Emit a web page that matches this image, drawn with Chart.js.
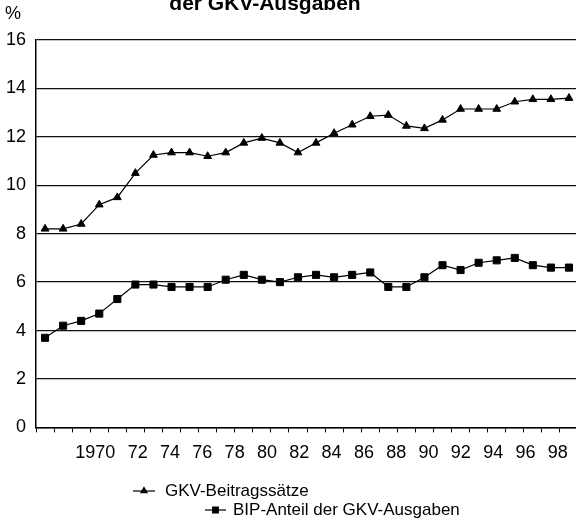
<!DOCTYPE html>
<html>
<head>
<meta charset="utf-8">
<script src="https://cdn.jsdelivr.net/npm/chart.js@4"></script>
<style>
  html, body { margin: 0; padding: 0; background: #fff; overflow: hidden; }
  #wrap { position: relative; width: 576px; height: 521px; overflow: hidden; }
  #c { position: absolute; left: 0; top: 0; }
</style>
</head>
<body>
<div id="wrap"><canvas id="c" width="584" height="521"></canvas></div>
<script>
// ---- data ----
const years = [1970,1971,1972,1973,1974,1975,1976,1977,1978,1979,
               1980,1981,1982,1983,1984,1985,1986,1987,1988,1989,
               1990,1991,1992,1993,1994,1995,1996,1997,1998,1999];
const gkvBeitragssaetze = [8.2,8.2,8.4,9.2,9.5,10.5,11.25,11.35,11.35,11.2,
                           11.35,11.75,11.95,11.75,11.35,11.75,12.15,12.5,12.85,12.9,
                           12.45,12.35,12.7,13.15,13.15,13.15,13.45,13.55,13.55,13.6];
const bipAnteil = [3.7,4.2,4.4,4.7,5.3,5.9,5.9,5.8,5.8,5.8,
                   6.1,6.3,6.1,6.0,6.2,6.3,6.2,6.3,6.4,5.8,
                   5.8,6.2,6.7,6.5,6.8,6.9,7.0,6.7,6.6,6.6];
const tickYears = [1970,1972,1974,1976,1978,1980,1982,1984,1986,1988,1990,1992,1994,1996,1998];
const tickLabels = ['1970','72','74','76','78','80','82','84','86','88','90','92','94','96','98'];
const yTicks = [0,2,4,6,8,10,12,14,16];
const seriesNames = ['GKV-Beitragssätze', 'BIP-Anteil der GKV-Ausgaben'];
const titleText = 'der GKV-Ausgaben';
const unitText = '%';

const FONT = '"Liberation Sans", Arial, sans-serif';

const extrasPlugin = {
  id: 'extras',
  afterDraw(chart) {
    const ctx = chart.ctx;
    ctx.save();
    ctx.fillStyle = '#000';
    ctx.font = 'bold 21px ' + FONT;
    ctx.textAlign = 'center';
    ctx.textBaseline = 'alphabetic';
    ctx.fillText(titleText, 265, 10);
    ctx.font = '18px ' + FONT;
    ctx.textAlign = 'left';
    ctx.textBaseline = 'middle';
    ctx.fillText(unitText, 5, 14);
    const rows = [
      {x0: 133, x1: 155, y: 491, tx: 165},
      {x0: 205, x1: 226, y: 510, tx: 233}
    ];
    chart.data.datasets.forEach((ds, i) => {
      const r = rows[i];
      ctx.strokeStyle = ds.borderColor;
      ctx.lineWidth = 1.2;
      ctx.beginPath();
      ctx.moveTo(r.x0, r.y);
      ctx.lineTo(r.x1, r.y);
      ctx.stroke();
      ctx.fillStyle = ds.pointBackgroundColor;
      Chart.helpers.drawPoint(ctx, {
        pointStyle: ds.pointStyle,
        radius: ds.pointStyle === 'rect' ? 4 : 3.5,
        borderWidth: 1,
        rotation: 0
      }, (r.x0 + r.x1) / 2, r.y);
      ctx.fill();
      ctx.fillStyle = '#000';
      ctx.font = '17px ' + FONT;
      ctx.textAlign = 'left';
      ctx.textBaseline = 'middle';
      ctx.fillText(ds.label, r.tx, r.y);
    });
    ctx.restore();
  }
};

new Chart(document.getElementById('c'), {
  type: 'line',
  data: {
    labels: years.map(String),
    datasets: [
      {
        label: seriesNames[0],
        data: gkvBeitragssaetze,
        borderColor: '#000',
        backgroundColor: '#000',
        pointBackgroundColor: '#000',
        pointBorderColor: '#000',
        borderWidth: 1.2,
        pointStyle: 'triangle',
        pointRadius: 4.5,
        pointBorderWidth: 1,
        tension: 0,
        xAxisID: 'x',
        yAxisID: 'y'
      },
      {
        label: seriesNames[1],
        data: bipAnteil,
        borderColor: '#000',
        backgroundColor: '#000',
        pointBackgroundColor: '#000',
        pointBorderColor: '#000',
        borderWidth: 1.2,
        pointStyle: 'rect',
        pointRadius: 5,
        pointBorderWidth: 1,
        tension: 0,
        xAxisID: 'x',
        yAxisID: 'y'
      }
    ]
  },
  options: {
    responsive: false,
    animation: false,
    devicePixelRatio: 1,
    layout: { padding: { top: 40, left: -4, right: 4, bottom: 55 } },
    plugins: {
      legend: { display: false },
      title: { display: false },
      tooltip: { enabled: false }
    },
    scales: {
      x: {
        type: 'category',
        position: 'bottom',
        offset: true,
        grid: { display: true, drawOnChartArea: false, drawTicks: true, tickLength: 5, offset: true, color: '#000', lineWidth: 1 },
        border: { display: true, color: '#000', width: 1.5 },
        ticks: { display: false }
      },
      x2: {
        type: 'linear',
        position: 'bottom',
        min: 1965.09,
        max: 1998.63,
        grid: { display: false },
        border: { display: false },
        afterBuildTicks(scale) { scale.ticks = tickYears.map(v => ({ value: v })); },
        ticks: {
          padding: 2,
          align: 'end',
          color: '#000',
          font: { family: FONT, size: 18 },
          maxRotation: 0,
          autoSkip: false,
          callback(value) {
            const i = tickYears.indexOf(value);
            return i >= 0 ? tickLabels[i] : '';
          }
        }
      },
      y: {
        min: 0,
        max: 16,
        afterBuildTicks(scale) { scale.ticks = yTicks.map(v => ({ value: v })); },
        grid: { color: '#111', lineWidth: 1.3, drawTicks: false },
        border: { display: true, color: '#000', width: 1.5 },
        ticks: {
          padding: 10,
          color: '#000',
          font: { family: FONT, size: 18 }
        }
      }
    }
  },
  plugins: [extrasPlugin]
});
</script>
</body>
</html>
